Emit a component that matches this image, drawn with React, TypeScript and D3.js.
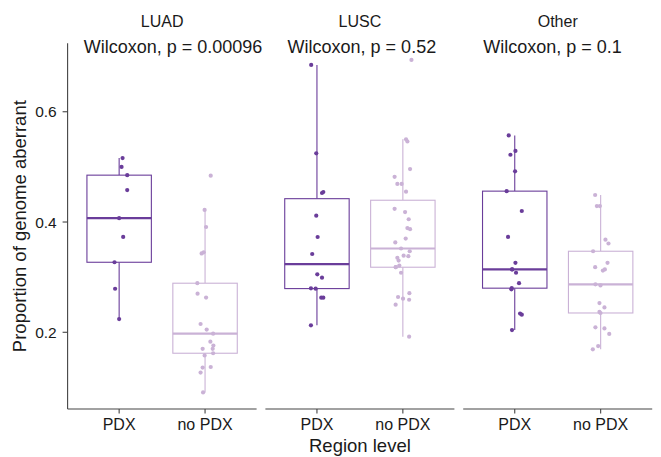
import React from "react";
import * as d3 from "d3";

// Facets and groups
const facets = ["LUAD", "LUSC", "Other"];
const groups = ["PDX", "no PDX"];
const pLabels = ["Wilcoxon, p = 0.00096", "Wilcoxon, p = 0.52", "Wilcoxon, p = 0.1"];
const yTicks = [0.2, 0.4, 0.6];

// Proportion of genome aberrant per region, with the horizontal jitter (fraction of a category step)
const luadPdx = [0.516, 0.5, 0.485, 0.458, 0.407, 0.373, 0.327, 0.279, 0.224];
const luadPdxJit = [0.04, 0.028, 0.094, 0.094, 0.0, 0.047, -0.054, -0.047, 0.0];

const luadNo = [0.484, 0.422, 0.391, 0.343, 0.345, 0.289, 0.27, 0.263, 0.215, 0.205, 0.1975, 0.183, 0.176, 0.17, 0.17, 0.162, 0.158, 0.137, 0.136, 0.127, 0.091];
const luadNoJit = [0.066, -0.005, 0.012, -0.04, -0.016, -0.09, -0.087, 0.012, -0.052, 0.019, 0.094, 0.062, 0.097, 0.089, -0.028, 0.094, -0.005, 0.066, -0.028, -0.052, -0.023];

const luscPdx = [0.685, 0.5245, 0.4526, 0.4544, 0.4115, 0.3728, 0.342, 0.3051, 0.2991, 0.2797, 0.2791, 0.2628, 0.2628, 0.2126];
const luscPdxJit = [-0.067, -0.008, 0.059, 0.074, -0.008, 0.008, -0.055, 0.004, 0.059, -0.07, -0.015, 0.05, 0.074, -0.07];

const luscNo = [0.694, 0.55, 0.546, 0.496, 0.482, 0.469, 0.469, 0.455, 0.424, 0.418, 0.405, 0.389, 0.387, 0.37, 0.363, 0.352, 0.347, 0.339, 0.338, 0.335, 0.33, 0.321, 0.318, 0.318, 0.308, 0.271, 0.264, 0.261, 0.259, 0.25, 0.192];
const luscNoJit = [0.1, 0.037, 0.053, 0.084, -0.096, -0.064, -0.014, 0.037, -0.096, 0.026, 0.068, 0.053, 0.084, 0.033, -0.088, -0.021, 0.08, 0.009, 0.064, -0.064, -0.049, -0.041, -0.084, -0.082, -0.021, 0.076, -0.056, 0.002, 0.073, -0.084, 0.073];

const otherPdx = [0.557, 0.529, 0.522, 0.492, 0.456, 0.42, 0.373, 0.326, 0.314, 0.314, 0.308, 0.289, 0.28, 0.278, 0.234, 0.232, 0.204];
const otherPdxJit = [-0.07, 0.008, -0.05, 0.004, -0.094, 0.082, -0.078, 0.008, -0.032, -0.029, 0.015, 0.05, -0.035, -0.039, 0.062, 0.082, -0.032];

const otherNo = [0.449, 0.429, 0.429, 0.368, 0.361, 0.347, 0.326, 0.318, 0.312, 0.314, 0.287, 0.285, 0.253, 0.245, 0.237, 0.235, 0.209, 0.207, 0.197, 0.175, 0.169];
const otherNoJit = [-0.064, -0.044, -0.009, 0.056, 0.091, -0.088, 0.08, -0.064, 0.026, 0.049, -0.061, -0.002, -0.014, 0.044, -0.014, -0.002, -0.061, 0.044, 0.1, -0.029, -0.091];

const series = [
  [
    { values: luadPdx, jitter: luadPdxJit },
    { values: luadNo, jitter: luadNoJit },
  ],
  [
    { values: luscPdx, jitter: luscPdxJit },
    { values: luscNo, jitter: luscNoJit },
  ],
  [
    { values: otherPdx, jitter: otherPdxJit },
    { values: otherNo, jitter: otherNoJit },
  ],
];

const colors = ["#6a3d9a", "#cab2d6"];
const FONT = "'Liberation Sans', Arial, Helvetica, sans-serif";

const W = 661;
const H = 457;
const panelLeft = 67.6;
const panelW = 189;
const panelGap = 8.8;
const panelTop = 43.3;
const panelBottom = 409;
// horizontal position of each p-value label, in category units of its facet
const pLabelX = [1.627, 1.523, 1.439];

function boxStats(vals: number[]) {
  const s = [...vals].sort(d3.ascending);
  const q1 = d3.quantile(s, 0.25) as number;
  const med = d3.quantile(s, 0.5) as number;
  const q3 = d3.quantile(s, 0.75) as number;
  const iqr = q3 - q1;
  const lo = d3.min(s.filter((v) => v >= q1 - 1.5 * iqr)) as number;
  const hi = d3.max(s.filter((v) => v <= q3 + 1.5 * iqr)) as number;
  return { q1, med, q3, lo, hi };
}

export default function App() {
  const all = series.flat().flatMap((g) => g.values);
  const [mn, mx] = d3.extent(all) as [number, number];
  const pad = (mx - mn) * 0.05;
  const y = d3.scaleLinear().domain([mn - pad, mx + pad]).range([panelBottom, panelTop]);

  return (
    <svg width={W} height={H} style={{ position: "absolute", left: 0, top: 0, background: "#fff" }} fontFamily={FONT}>
      {facets.map((f, fi) => {
        const left = panelLeft + fi * (panelW + panelGap);
        const x = d3.scalePoint<string>().domain(groups).range([left, left + panelW]).padding(0.6);
        const step = x.step();
        const boxW = step * 0.75;
        const cx = left + panelW / 2;
        const labelPos = left + (pLabelX[fi] - 1 + 0.6) * step;
        return (
          <g key={f}>
            <text x={cx} y={26.7} textAnchor="middle" fontSize={16} fill="#1a1a1a">
              {f}
            </text>
            <text x={labelPos} y={53.3} textAnchor="middle" fontSize={18} fill="#1a1a1a">
              {pLabels[fi]}
            </text>
            {series[fi].map((g, gi) => {
              const st = boxStats(g.values);
              const gx = x(groups[gi]) as number;
              const c = colors[gi];
              return (
                <g key={gi}>
                  <line x1={gx} x2={gx} y1={y(st.hi)} y2={y(st.q3)} stroke={c} strokeWidth={1.1} />
                  <line x1={gx} x2={gx} y1={y(st.q1)} y2={y(st.lo)} stroke={c} strokeWidth={1.1} />
                  <rect
                    x={gx - boxW / 2}
                    y={y(st.q3)}
                    width={boxW}
                    height={y(st.q1) - y(st.q3)}
                    fill="#fff"
                    stroke={c}
                    strokeWidth={1.1}
                  />
                  <line x1={gx - boxW / 2} x2={gx + boxW / 2} y1={y(st.med)} y2={y(st.med)} stroke={c} strokeWidth={2.2} />
                </g>
              );
            })}
            {series[fi].map((g, gi) => {
              const gx = x(groups[gi]) as number;
              return (
                <g key={"p" + gi}>
                  {g.values.map((v, i) => (
                    <circle key={i} cx={gx + g.jitter[i] * step} cy={y(v)} r={2.1} fill={colors[gi]} />
                  ))}
                </g>
              );
            })}
            {/* x axis */}
            <line x1={left} x2={left + panelW} y1={panelBottom} y2={panelBottom} stroke="#444" strokeWidth={1.1} />
            {groups.map((gname) => (
              <g key={gname}>
                <line
                  x1={x(gname)}
                  x2={x(gname)}
                  y1={panelBottom}
                  y2={panelBottom + 4.5}
                  stroke="#444"
                  strokeWidth={1.1}
                />
                <text x={x(gname)} y={430} textAnchor="middle" fontSize={16} fill="#1a1a1a">
                  {gname}
                </text>
              </g>
            ))}
          </g>
        );
      })}
      {/* y axis */}
      <line x1={panelLeft} x2={panelLeft} y1={panelTop} y2={panelBottom} stroke="#444" strokeWidth={1.1} />
      {yTicks.map((t) => (
        <g key={t}>
          <line x1={panelLeft - 5} x2={panelLeft} y1={y(t)} y2={y(t)} stroke="#444" strokeWidth={1.1} />
          <text x={56.7} y={y(t)} dy="0.36em" textAnchor="end" fontSize={15.5} fill="#1a1a1a">
            {t.toFixed(1)}
          </text>
        </g>
      ))}
      <text
        transform={`translate(25.5, ${(panelTop + panelBottom) / 2}) rotate(-90)`}
        textAnchor="middle"
        fontSize={18.5}
        fill="#1a1a1a"
      >
        Proportion of genome aberrant
      </text>
      <text x={panelLeft + (3 * panelW + 2 * panelGap) / 2} y={451.7} textAnchor="middle" fontSize={18.5} fill="#1a1a1a">
        Region level
      </text>
    </svg>
  );
}
